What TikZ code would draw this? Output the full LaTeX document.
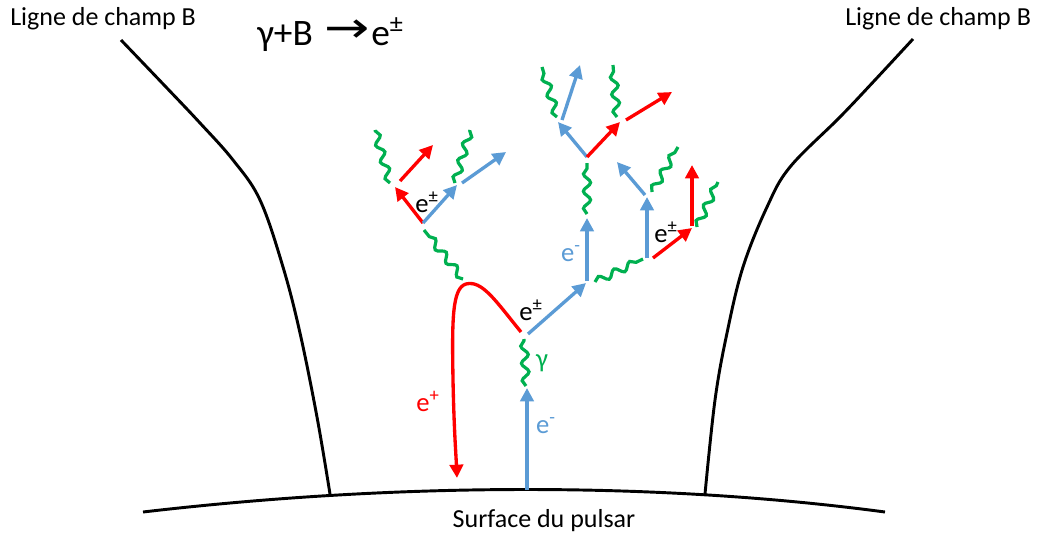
\documentclass[tikz,border=0pt]{standalone}
\usepackage{fontspec}
\usepackage{graphicx}
\setmainfont{Carlito}
\newfontfamily\dejavu{DejaVu Sans}
\usetikzlibrary{arrows.meta,decorations.pathmorphing}
\definecolor{eblue}{HTML}{5B9BD5}
\definecolor{ered}{HTML}{FF0000}
\definecolor{egreen}{HTML}{00B050}
\begin{document}
\begin{tikzpicture}[x=0.75pt,y=-0.75pt,
  fieldline/.style={line width=2.2pt, black},
  elec/.style={eblue, line width=2.5pt, -{Triangle[length=10pt,width=10pt]}},
  posi/.style={ered, line width=2.5pt, -{Triangle[length=10pt,width=10pt]}},
  photon/.style={egreen, line width=2.4pt, decorate, decoration={snake, segment length=13pt, amplitude=2.7pt}},
  lbl/.style={font=\fontsize{19.5}{23}\selectfont, inner sep=0pt},
  plbl/.style={font=\fontsize{20}{24}\selectfont, inner sep=0pt},
]
\useasboundingbox (0,0) rectangle (1037,536);

% texts
\node[lbl, anchor=base west] (lbL) at (10,25) {Ligne de champ B};
\node[lbl, anchor=base west] (lbR) at (845,25) {Ligne de champ B};
\node[lbl, anchor=base] (surf) at (544,527) {Surface du pulsar};
\node[anchor=base west, inner sep=0pt, font=\fontsize{28}{32}\selectfont] (title) at (257,45) {γ+B\hspace{0.3em}\raisebox{0.08em}{\scalebox{1.45}[1.15]{\dejavu\fontsize{28}{32}\selectfont →}}\hspace{0.05em}e\textsuperscript{±}};

% surface and field lines
\coordinate (s1) at (143,512);
\coordinate (s2) at (885,512);
\draw[fieldline] (s1) .. controls (400,482) and (660,482) .. (s2);
\draw[fieldline] plot[smooth, tension=0.6] coordinates {(121,40) (165,86) (200,123) (233,160) (260,200) (283,267) (300,333) (317,417) (330,494)};
\draw[fieldline] plot[smooth, tension=0.6] coordinates {(913,39) (875,80) (840,117) (790,167) (767,207) (743,267) (727,333) (715,400) (705,494)};

% main electron and photon
\coordinate (a0) at (527,490);
\coordinate (a1) at (527,388);
\draw[elec] (a0) -- (a1);
\node[plbl, text=eblue] (lem1) at (546,426) {e\textsuperscript{-}};
\coordinate (g1a) at (526,386);
\coordinate (g1b) at (524,339);
\draw[photon] (g1a) -- (g1b);
\node[plbl, text=egreen] (lg) at (542,363) {γ};

% first pair
\coordinate (v1r) at (521,332);
\coordinate (v1b) at (528,334);
\coordinate (top) at (466,284);
\coordinate (pdown) at (457,478);
\draw[posi] (v1r) .. controls (495,300) and (482,280) .. (top) .. controls (452,288) and (452,320) .. (453,380) .. controls (454,430) and (456,455) .. (pdown);
\node[plbl, text=ered] (lep) at (428,401) {e\textsuperscript{+}};
\coordinate (b1) at (586,283);
\draw[elec] (v1b) -- (b1);
\node[plbl] (lpm1) at (531,310) {e\textsuperscript{±}};

% left branch
\coordinate (g2a) at (463,279);
\coordinate (g2b) at (424,230);
\draw[photon] (g2a) -- (g2b);
\coordinate (v2) at (423,223);
\coordinate (r2) at (395,187);
\coordinate (b2) at (457,185);
\draw[posi] (v2) -- (r2);
\draw[elec] (v2) -- (b2);
\node[plbl] (lpm2) at (427,202) {e\textsuperscript{±}};
\coordinate (g3a) at (390,183);
\coordinate (g3b) at (375,130);
\draw[photon] (g3a) -- (g3b);
\coordinate (r3a) at (400,181);
\coordinate (r3b) at (433,145);
\draw[posi] (r3a) -- (r3b);
\coordinate (g4a) at (455,183);
\coordinate (g4b) at (470,130);
\draw[photon] (g4a) -- (g4b);
\coordinate (b4a) at (462,183);
\coordinate (b4b) at (506,152);
\draw[elec] (b4a) -- (b4b);

% middle branch
\coordinate (v3) at (587,281);
\coordinate (b5) at (587,218);
\draw[elec] (v3) -- (b5);
\node[plbl, text=eblue] (lem2) at (571,254) {e\textsuperscript{-}};
\coordinate (g5a) at (595,282);
\coordinate (g5b) at (643,259);
\draw[photon] (g5a) -- (g5b);
\coordinate (g6a) at (587,214);
\coordinate (g6b) at (587,163);
\draw[photon] (g6a) -- (g6b);
\coordinate (v4) at (587,157);
\coordinate (b6) at (558,122);
\coordinate (r6) at (620,122);
\draw[elec] (v4) -- (b6);
\draw[posi] (v4) -- (r6);
\coordinate (g7a) at (557,117);
\coordinate (g7b) at (542,67);
\draw[photon] (g7a) -- (g7b);
\coordinate (b7a) at (562,120);
\coordinate (b7b) at (580,65);
\draw[elec] (b7a) -- (b7b);
\coordinate (g8a) at (617,117);
\coordinate (g8b) at (613,65);
\draw[photon] (g8a) -- (g8b);
\coordinate (r8a) at (626,120);
\coordinate (r8b) at (672,92);
\draw[posi] (r8a) -- (r8b);

% right branch
\coordinate (v5b) at (647,258);
\coordinate (b9) at (647,197);
\draw[elec] (v5b) -- (b9);
\coordinate (v5r) at (653,258);
\coordinate (r9) at (692,228);
\draw[posi] (v5r) -- (r9);
\node[plbl] (lpm3) at (666,232) {e\textsuperscript{±}};
\coordinate (g9a) at (652,192);
\coordinate (g9b) at (678,147);
\draw[photon] (g9a) -- (g9b);
\coordinate (b10a) at (645,195);
\coordinate (b10) at (617,162);
\draw[elec] (b10a) -- (b10);
\coordinate (r10a) at (692,226);
\coordinate (r10b) at (692,165);
\draw[posi] (r10a) -- (r10b);
\coordinate (g10a) at (697,227);
\coordinate (g10b) at (718,182);
\draw[photon] (g10a) -- (g10b);
\end{tikzpicture}
\end{document}
